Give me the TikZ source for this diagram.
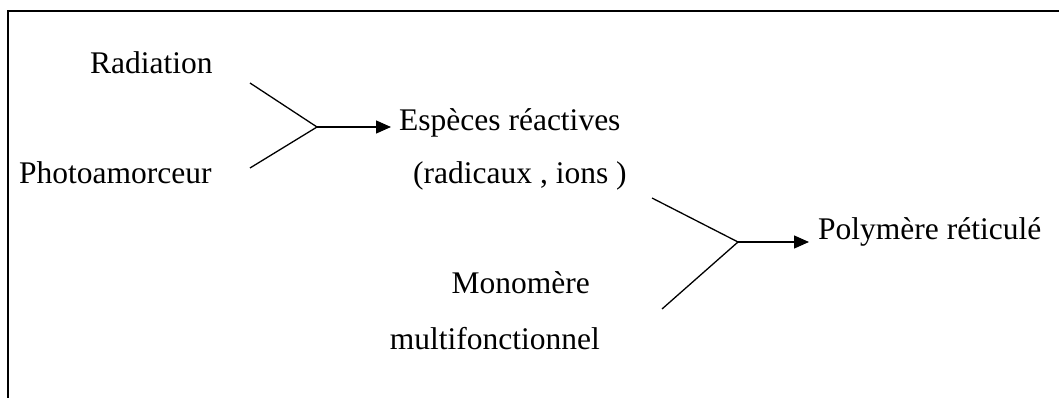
\documentclass[tikz,border=0pt]{standalone}
\usepackage{fontspec}
\setmainfont{Liberation Serif}
\usetikzlibrary{arrows.meta}
\begin{document}
\begin{tikzpicture}[x=1pt,y=-1pt,
  lbl/.style={anchor=base west,inner sep=0pt,font=\fontsize{31.5}{36}\selectfont},
  lblr/.style={anchor=base east,inner sep=0pt,font=\fontsize{31.5}{36}\selectfont},
  branch/.style={line width=1.3pt},
  react/.style={line width=1.3pt,-{Triangle[length=15pt,width=13pt]}}]
\useasboundingbox (0,0) rectangle (1059,398);
% open frame: left and top edges
\draw[line width=2pt] (8,398) -- (8,11) -- (1059,11);
% labels
\node[lbl] (rad) at (90,74) {Radiation};
\node[lbl] (photo) at (19,183) {Photoamorceur};
\node[lbl] (esp) at (399,131) {Espèces réactives};
\node[lbl] (radic) at (413,183) {(radicaux , ions )};
\node[lbl] (poly) at (818,239) {Polymère réticulé};
\node[lblr] (mono) at (590,293) {Monomère};
\node[lblr] (multi) at (600,349) {multifonctionnel};
% first step
\coordinate (a1) at (250,83);
\coordinate (b1) at (250,168);
\coordinate (j1) at (317,127);
\coordinate (t1) at (391,127);
\draw[branch] (a1) -- (j1) -- (b1);
\draw[react] (j1) -- (t1);
% second step
\coordinate (a2) at (652,198);
\coordinate (b2) at (662,309);
\coordinate (j2) at (738,242);
\coordinate (t2) at (809,242);
\draw[branch] (a2) -- (j2) -- (b2);
\draw[react] (j2) -- (t2);
\end{tikzpicture}
\end{document}
